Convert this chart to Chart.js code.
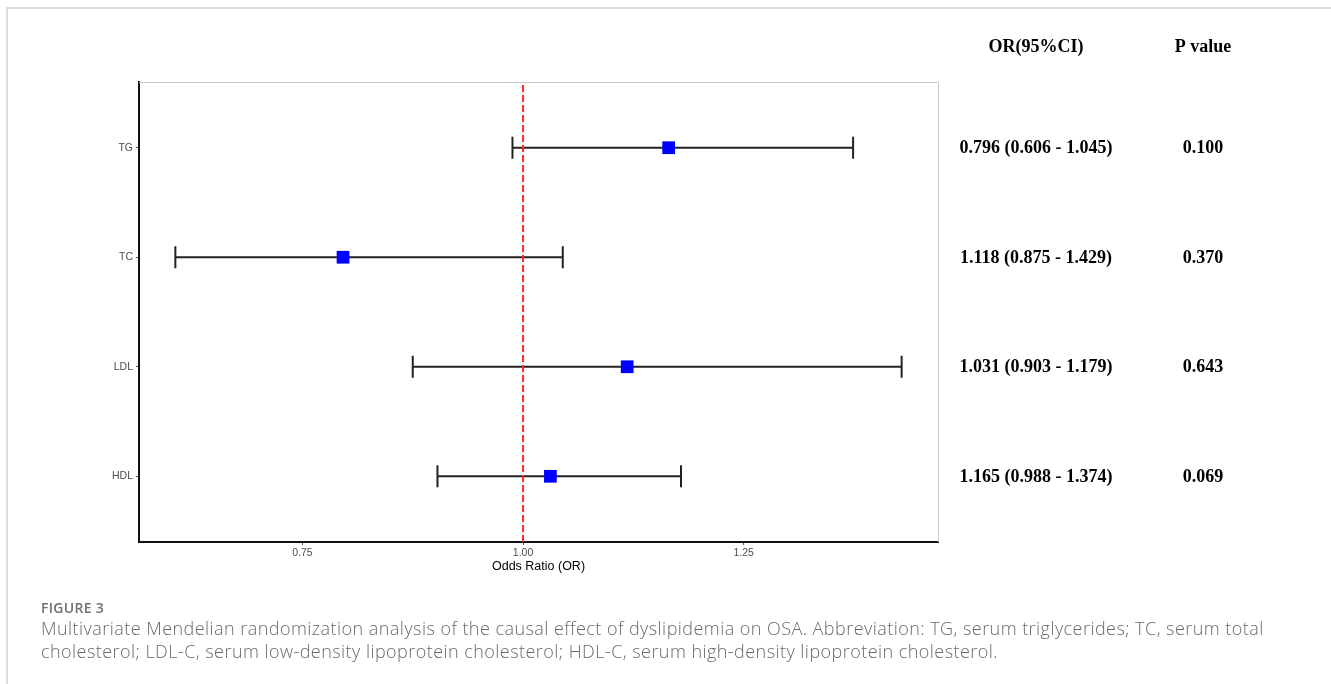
<!DOCTYPE html>
<html>
<head>
<meta charset="utf-8">
<script src="https://cdn.jsdelivr.net/npm/chart.js@4.4.1/dist/chart.umd.min.js"></script>
<style>
  html, body { margin: 0; padding: 0; background: #fff; }
  body { width: 1331px; height: 684px; position: relative; overflow: hidden; }
  .frame { position: absolute; left: 6px; top: 7px; right: -10px; bottom: -10px;
           border-top: 2px solid #dcdcdc; border-left: 2px solid #dcdcdc; }
  #forest { position: absolute; left: 0; top: 0; }
  .cap { position: absolute; left: 41px; font-family: "Open Sans", sans-serif; color: #6a6a6a; white-space: nowrap; }
  .fig { top: 599px; font-size: 14px; line-height: 18px; font-weight: 600; color: #707070; letter-spacing: 0.3px; }
  .txt { font-size: 18px; line-height: 23px; font-weight: 300; letter-spacing: 0.45px; }
</style>
</head>
<body>
<div class="frame"></div>
<canvas id="forest" width="1331" height="684"></canvas>
<div class="cap fig">FIGURE 3</div>
<div class="cap txt" style="top:617px">Multivariate Mendelian randomization analysis of the causal effect of dyslipidemia on OSA. Abbreviation: TG, serum triglycerides; TC, serum total</div>
<div class="cap txt" style="top:640px">cholesterol; LDL-C, serum low-density lipoprotein cholesterol; HDL-C, serum high-density lipoprotein cholesterol.</div>
<script>
// ── data ───────────────────────────────────────────────
const categories = ['TG', 'TC', 'LDL', 'HDL'];
const orValues   = [1.165, 0.796, 1.118, 1.031];
const ciLower    = [0.988, 0.606, 0.875, 0.903];
const ciUpper    = [1.374, 1.045, 1.429, 1.179];
const refValue   = 1.0;
const xTicks     = [0.75, 1.00, 1.25];
const tableHead  = ['OR(95%CI)', 'P value'];
const orLabels   = ['0.796 (0.606 - 1.045)', '1.118 (0.875 - 1.429)', '1.031 (0.903 - 1.179)', '1.165 (0.988 - 1.374)'];
const pLabels    = ['0.100', '0.370', '0.643', '0.069'];

// top row sits at the highest y value
const yPos = i => categories.length - i;
const Y_MIN = 0.4, Y_MAX = categories.length + 0.6;

const barColor = '#222';

// error bars: one line dataset per row, caps drawn as rotated 'line' points
const ciSets = categories.map((c, i) => ({
  type: 'line',
  label: c + ' CI',
  data: [{x: ciLower[i], y: yPos(i)}, {x: ciUpper[i], y: yPos(i)}],
  borderColor: barColor, borderWidth: 2,
  pointStyle: 'line', pointRotation: 90, pointRadius: 11,
  pointBorderColor: barColor, pointBorderWidth: 2, pointHoverRadius: 11,
  order: 3,
}));

const pointSet = {
  type: 'scatter',
  label: 'OR',
  data: orValues.map((v, i) => ({x: v, y: yPos(i)})),
  pointStyle: 'rect', pointRadius: 9, pointHoverRadius: 9,
  backgroundColor: '#0000ff', borderColor: '#0000ff', borderWidth: 0,
  order: 1,
};

const refSet = {
  type: 'line',
  label: 'ref',
  data: [{x: refValue, y: Y_MIN}, {x: refValue, y: Y_MAX}],
  borderColor: '#ff2a2a', borderWidth: 2, borderDash: [7, 3],
  pointRadius: 0,
  order: 2,
};

// gray top / right edges of the panel
const panelFrame = {
  id: 'panelFrame',
  beforeDatasetsDraw(chart) {
    const {ctx, chartArea: a} = chart;
    ctx.save();
    ctx.strokeStyle = '#c8c8c8';
    ctx.lineWidth = 1;
    ctx.beginPath();
    ctx.moveTo(a.left, a.top + 0.5);
    ctx.lineTo(a.right + 0.5, a.top + 0.5);
    ctx.lineTo(a.right + 0.5, a.bottom);
    ctx.stroke();
    ctx.restore();
  },
};

// OR / P value table on the right, rows follow the y scale
const sideTable = {
  id: 'sideTable',
  afterDraw(chart) {
    const {ctx} = chart;
    const y = chart.scales.y;
    const colOR = 1036, colP = 1203;
    ctx.save();
    ctx.font = 'bold 18px "Liberation Serif", "Times New Roman", serif';
    ctx.fillStyle = '#000';
    ctx.textAlign = 'center';
    ctx.textBaseline = 'middle';
    ctx.fillText(tableHead[0], colOR, 47);
    ctx.fillText(tableHead[1], colP, 47);
    orLabels.forEach((t, i) => {
      const py = y.getPixelForValue(yPos(i)) + 1;
      ctx.fillText(t, colOR, py);
      ctx.fillText(pLabels[i], colP, py);
    });
    ctx.restore();
  },
};

const tickFont = {family: 'Arial, "Liberation Sans", sans-serif', size: 10.5};

new Chart(document.getElementById('forest').getContext('2d'), {
  type: 'scatter',
  data: {datasets: [pointSet, refSet, ...ciSets]},
  options: {
    responsive: false, animation: false,
    layout: {padding: {left: 99, top: 82, right: 393, bottom: 110}},
    plugins: {legend: {display: false}, tooltip: {enabled: false}},
    scales: {
      x: {
        type: 'linear', min: 0.5648, max: 1.4702,
        afterBuildTicks: s => { s.ticks = xTicks.map(v => ({value: v})); },
        afterFit: s => { s.height = 32; },
        ticks: {font: tickFont, color: '#4d4d4d', padding: 2, callback: v => v.toFixed(2)},
        grid: {drawOnChartArea: false, tickLength: 3, color: '#555', lineWidth: 1},
        border: {display: true, color: '#111', width: 2},
        title: {display: true, text: 'Odds Ratio (OR)', color: '#000',
                font: {family: 'Arial, "Liberation Sans", sans-serif', size: 12.5},
                padding: {top: 0, bottom: 0}},
      },
      y: {
        type: 'linear', min: Y_MIN, max: Y_MAX,
        afterBuildTicks: s => { s.ticks = categories.map((c, i) => ({value: yPos(i)})); },
        afterFit: s => { s.width = 40; },
        ticks: {font: tickFont, color: '#4d4d4d', padding: 3,
                callback: v => categories[categories.length - v]},
        grid: {drawOnChartArea: false, tickLength: 3, color: '#555', lineWidth: 1},
        border: {display: true, color: '#111', width: 2},
      },
    },
  },
  plugins: [panelFrame, sideTable],
});
</script>
</body>
</html>
